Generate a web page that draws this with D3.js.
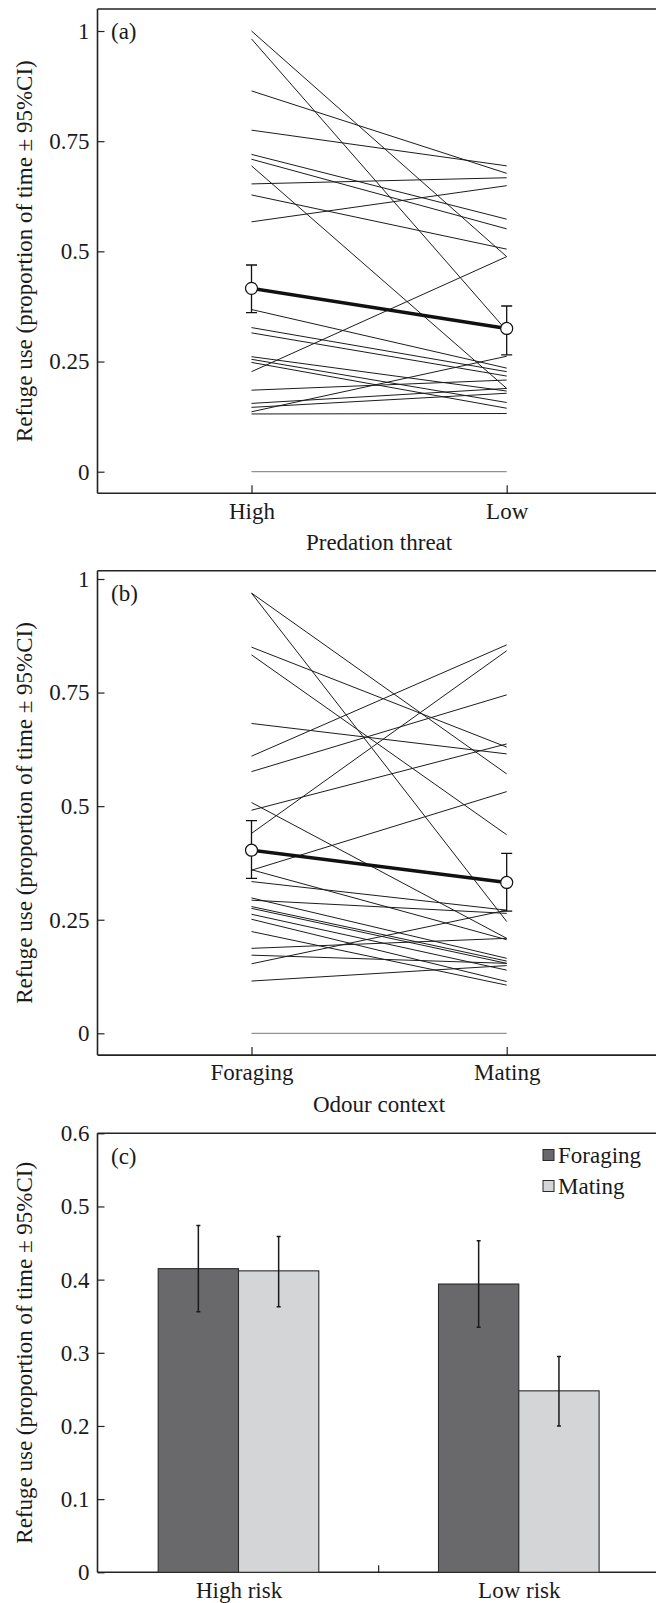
<!DOCTYPE html>
<html>
<head>
<meta charset="utf-8">
<script src="https://cdn.jsdelivr.net/npm/d3@7"></script>
<style>
  body { margin: 0; background: #fff; }
  svg text { font-family: "Liberation Serif", "Times New Roman", serif; fill: #1a1a1a; }
</style>
</head>
<body>
<svg id="chart" width="656" height="1603"></svg>
<script>
// panel (a): predation threat, one line per individual
const threatCats = ["High", "Low"];
const threatHigh = [1.0, 0.982, 0.864, 0.775, 0.720, 0.709, 0.694, 0.653, 0.628, 0.567, 0.368, 0.327, 0.315, 0.261, 0.255, 0.248, 0.227, 0.185, 0.155, 0.146, 0.136, 0.131, 0];
const threatLow  = [0.488, 0.320, 0.677, 0.694, 0.573, 0.551, 0.189, 0.667, 0.505, 0.649, 0.235, 0.227, 0.217, 0.183, 0.157, 0.144, 0.488, 0.208, 0.189, 0.178, 0.262, 0.132, 0];
const threatMean = [0.416, 0.325];
const threatCiLo = [0.361, 0.265];
const threatCiHi = [0.469, 0.376];

// panel (b): odour context
const odourCats = ["Foraging", "Mating"];
const odourForaging = [0.969, 0.969, 0.850, 0.833, 0.682, 0.610, 0.576, 0.508, 0.491, 0.440, 0.359, 0.360, 0.334, 0.298, 0.293, 0.279, 0.275, 0.262, 0.251, 0.224, 0.187, 0.172, 0.153, 0.115, 0];
const odourMating   = [0.246, 0.571, 0.630, 0.437, 0.615, 0.855, 0.745, 0.209, 0.637, 0.842, 0.532, 0.206, 0.271, 0.165, 0.264, 0.159, 0.154, 0.139, 0.114, 0.106, 0.209, 0.154, 0.271, 0.149, 0];
const odourMean = [0.403, 0.332];
const odourCiLo = [0.341, 0.269];
const odourCiHi = [0.468, 0.396];

// panel (c): bars
const riskCats = ["High risk", "Low risk"];
const contexts = ["Foraging", "Mating"];
const barForaging = [0.415, 0.394];
const barMating = [0.412, 0.248];
const errForagingLo = [0.356, 0.335];
const errForagingHi = [0.474, 0.453];
const errMatingLo = [0.363, 0.200];
const errMatingHi = [0.459, 0.295];

const lineTicks = [0, 0.25, 0.5, 0.75, 1];
const barTicks = [0, 0.1, 0.2, 0.3, 0.4, 0.5, 0.6];
const yTitle = "Refuge use (proportion of time \u00b1 95%CI)";

const svg = d3.select("#chart");
const W = 656;
const left = 97.5;
const fontSize = 23;

function drawFrame(y, top, bottom) {
    let g = svg.append("g").attr("class", "frame");
    g.append("line").attr("x1", left).attr("x2", W).attr("y1", y(top)).attr("y2", y(top));
    g.append("line").attr("x1", left).attr("x2", W).attr("y1", y(bottom)).attr("y2", y(bottom));
    g.append("line").attr("x1", left).attr("x2", left).attr("y1", y(top)).attr("y2", y(bottom));
    g.selectAll("line").style("stroke", "#222").style("stroke-width", 1.6);
}

function drawYAxis(y, ticks, top, bottom) {
    let g = svg.append("g")
        .attr("transform", "translate(" + left + ",0)")
        .call(d3.axisLeft(y).tickValues(ticks).tickFormat(d => String(d))
            .tickSizeInner(-7).tickSizeOuter(0).tickPadding(8));
    g.select(".domain").remove();
    g.selectAll(".tick line").style("stroke", "#222").style("stroke-width", 1.2);
    g.selectAll(".tick text").style("font-size", fontSize + "px").attr("font-family", null);

    let mid = (y(top) + y(bottom)) / 2;
    svg.append("text")
        .attr("transform", "translate(24," + mid + ") rotate(-90)")
        .attr("text-anchor", "middle")
        .attr("dominant-baseline", "central")
        .style("font-size", fontSize + "px")
        .text(yTitle);
}

function drawLinePanel(opts) {
    let y = d3.scaleLinear().domain([0, 1]).range(opts.yRange);
    let x = d3.scalePoint().domain(opts.cats).range([251.5, 506.7]);

    drawFrame(y, opts.top, opts.bottom);
    drawYAxis(y, lineTicks, opts.top, opts.bottom);

    let xa = svg.append("g")
        .attr("transform", "translate(0," + y(opts.bottom) + ")")
        .call(d3.axisBottom(x).tickSizeInner(-8).tickSizeOuter(0).tickPadding(9));
    xa.select(".domain").remove();
    xa.selectAll(".tick line").style("stroke", "#222").style("stroke-width", 1.2);
    xa.selectAll(".tick text").style("font-size", fontSize + "px").attr("font-family", null);

    svg.append("text")
        .attr("x", (x(opts.cats[0]) + x(opts.cats[1])) / 2)
        .attr("y", opts.titleY)
        .attr("text-anchor", "middle")
        .style("font-size", fontSize + "px")
        .text(opts.xTitle);

    svg.append("text")
        .attr("x", 111)
        .attr("y", opts.labelY)
        .attr("dominant-baseline", "central")
        .style("font-size", fontSize + "px")
        .text(opts.label);

    let pairs = opts.a.map((v, i) => [v, opts.b[i]]);
    svg.append("g").selectAll("line")
        .data(pairs)
        .enter()
        .append("line")
        .attr("x1", x(opts.cats[0]))
        .attr("x2", x(opts.cats[1]))
        .attr("y1", d => y(d[0]))
        .attr("y2", d => y(d[1]))
        .style("stroke", d => (d[0] === 0 && d[1] === 0) ? "#777" : "#1c1c1c")
        .style("stroke-width", 1);

    // mean with 95% CI
    let g = svg.append("g");
    g.selectAll(".ci")
        .data(opts.cats)
        .enter()
        .append("path")
        .attr("d", (c, i) => {
            let cx = x(c), lo = y(opts.ciLo[i]), hi = y(opts.ciHi[i]);
            return "M" + (cx - 5.5) + "," + hi + "H" + (cx + 5.5) +
                   "M" + cx + "," + hi + "V" + lo +
                   "M" + (cx - 5.5) + "," + lo + "H" + (cx + 5.5);
        })
        .style("fill", "none")
        .style("stroke", "#111")
        .style("stroke-width", 1.3);

    g.append("line")
        .attr("x1", x(opts.cats[0])).attr("x2", x(opts.cats[1]))
        .attr("y1", y(opts.mean[0])).attr("y2", y(opts.mean[1]))
        .style("stroke", "#111")
        .style("stroke-width", 3.6);

    g.selectAll("circle")
        .data(opts.cats)
        .enter()
        .append("circle")
        .attr("cx", c => x(c))
        .attr("cy", (c, i) => y(opts.mean[i]))
        .attr("r", 6)
        .style("fill", "#fff")
        .style("stroke", "#111")
        .style("stroke-width", 1.2);
}

drawLinePanel({
    cats: threatCats, a: threatHigh, b: threatLow,
    mean: threatMean, ciLo: threatCiLo, ciHi: threatCiHi,
    yRange: [471.7, 31], top: 1.05, bottom: -0.049,
    xTitle: "Predation threat", titleY: 550, label: "(a)", labelY: 31
});

drawLinePanel({
    cats: odourCats, a: odourForaging, b: odourMating,
    mean: odourMean, ciLo: odourCiLo, ciHi: odourCiHi,
    yRange: [1033.3, 579], top: 1.018, bottom: -0.048,
    xTitle: "Odour context", titleY: 1112, label: "(b)", labelY: 593
});

// panel (c)
let yc = d3.scaleLinear().domain([0, 0.6]).range([1572.3, 1133.3]);
let x0 = d3.scalePoint().domain(riskCats).range([238.5, 518.8]);
let x1 = d3.scaleBand().domain(contexts).range([-80.3, 80.3]);
let barColor = d3.scaleOrdinal().domain(contexts).range(["#69696b", "#d4d5d7"]);

drawFrame(yc, 0.6, 0);
drawYAxis(yc, barTicks, 0.6, 0);

let xca = svg.append("g")
    .attr("transform", "translate(0," + yc(0) + ")")
    .call(d3.axisBottom(x0).tickSize(0).tickPadding(9));
xca.select(".domain").remove();
xca.selectAll(".tick text").style("font-size", fontSize + "px").attr("font-family", null)
    .attr("dy", "0.71em").attr("y", 9);

svg.append("line")
    .attr("x1", (x0(riskCats[0]) + x0(riskCats[1])) / 2)
    .attr("x2", (x0(riskCats[0]) + x0(riskCats[1])) / 2)
    .attr("y1", yc(0)).attr("y2", yc(0) - 7)
    .style("stroke", "#222").style("stroke-width", 1.2);

let bars = [];
riskCats.forEach((r, i) => {
    bars.push({ risk: r, ctx: "Foraging", v: barForaging[i], lo: errForagingLo[i], hi: errForagingHi[i] });
    bars.push({ risk: r, ctx: "Mating", v: barMating[i], lo: errMatingLo[i], hi: errMatingHi[i] });
});

svg.append("g").selectAll("rect")
    .data(bars)
    .enter()
    .append("rect")
    .attr("x", d => x0(d.risk) + x1(d.ctx))
    .attr("width", x1.bandwidth())
    .attr("y", d => yc(d.v))
    .attr("height", d => yc(0) - yc(d.v))
    .style("fill", d => barColor(d.ctx))
    .style("stroke", "#2a2a2a")
    .style("stroke-width", 1.1);

svg.append("g").selectAll("path")
    .data(bars)
    .enter()
    .append("path")
    .attr("d", d => {
        let cx = x0(d.risk) + x1(d.ctx) + x1.bandwidth() / 2;
        return "M" + (cx - 2) + "," + yc(d.hi) + "H" + (cx + 2) +
               "M" + cx + "," + yc(d.hi) + "V" + yc(d.lo) +
               "M" + (cx - 2) + "," + yc(d.lo) + "H" + (cx + 2);
    })
    .style("fill", "none")
    .style("stroke", "#1a1a1a")
    .style("stroke-width", 1.5);

svg.append("text")
    .attr("x", 111)
    .attr("y", 1156)
    .attr("dominant-baseline", "central")
    .style("font-size", fontSize + "px")
    .text("(c)");

// legend
let legend = svg.append("g").selectAll("g")
    .data(contexts)
    .enter()
    .append("g")
    .attr("transform", (d, i) => "translate(543," + (1155 + i * 31) + ")");

legend.append("rect")
    .attr("x", 0).attr("y", -5.5)
    .attr("width", 11).attr("height", 11)
    .style("fill", d => barColor(d))
    .style("stroke", "#2a2a2a")
    .style("stroke-width", 1);

legend.append("text")
    .attr("x", 15)
    .attr("y", 0)
    .attr("dominant-baseline", "central")
    .style("font-size", fontSize + "px")
    .text(d => d);
</script>
</body>
</html>
